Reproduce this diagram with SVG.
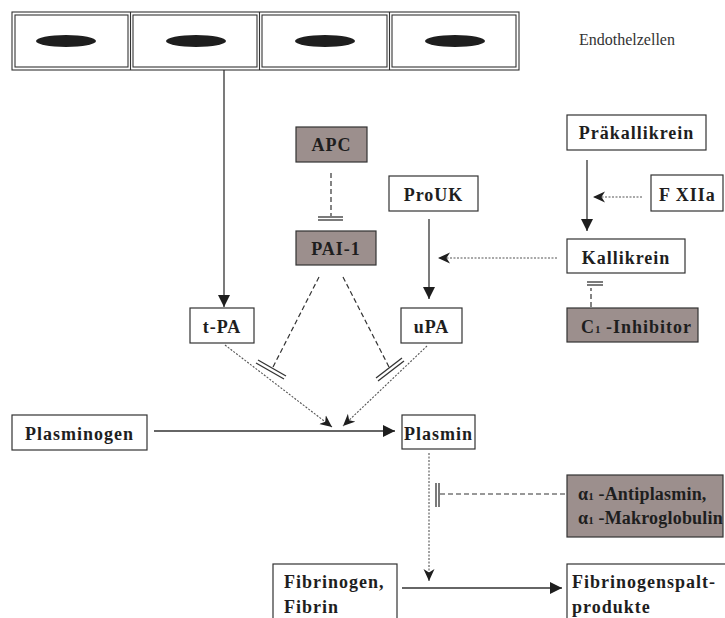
<svg xmlns="http://www.w3.org/2000/svg" width="725" height="618" viewBox="0 0 725 618">
  <defs>
    <style>
      .box { fill: #ffffff; stroke: #333333; stroke-width: 1.2; }
      .inh { fill: #9c8f8d; stroke: #333333; stroke-width: 1.2; }
      .cell { fill: none; stroke: #333333; stroke-width: 1.1; }
      .nuc { fill: #1e1e1e; }
      .lbl { font-family: "Liberation Serif", "Times New Roman", serif; font-weight: bold; font-size: 18px; letter-spacing: 1px; fill: #1e1e1e; }
      .tight { letter-spacing: 0.2px; }
      .sub { font-size: 11px; letter-spacing: 0; }
      .plain { font-family: "Liberation Serif", "Times New Roman", serif; font-size: 16px; fill: #333333; }
      .solid { fill: none; stroke: #333333; stroke-width: 1.3; }
      .dash { fill: none; stroke: #333333; stroke-width: 1.2; stroke-dasharray: 5 3; }
      .dot { fill: none; stroke: #555555; stroke-width: 1.1; stroke-dasharray: 2 1.5; }
      .bar { fill: none; stroke: #333333; stroke-width: 1.3; }
    </style>
    <marker id="solidHead" viewBox="0 0 12 12" refX="12" refY="6" markerWidth="12" markerHeight="12" markerUnits="userSpaceOnUse" orient="auto">
      <path d="M0,0 L12,6 L0,12 Z" fill="#1e1e1e"/>
    </marker>
    <marker id="barbHead" viewBox="0 0 12 12" refX="12" refY="6" markerWidth="12" markerHeight="12" markerUnits="userSpaceOnUse" orient="auto">
      <path d="M0,0.5 L12,6 L0,11.5 L3.5,6 Z" fill="#1e1e1e"/>
    </marker>
  </defs>

  <!-- endothelial cell layer -->
  <g id="endothel">
    <rect class="cell" x="12" y="12" width="507" height="58"/>
    <rect class="cell" x="15" y="15" width="113" height="52"/>
    <rect class="cell" x="133" y="15" width="124" height="52"/>
    <rect class="cell" x="262" y="15" width="125" height="52"/>
    <rect class="cell" x="392" y="15" width="124" height="52"/>
    <line class="cell" x1="130.5" y1="12" x2="130.5" y2="70"/>
    <line class="cell" x1="259.5" y1="12" x2="259.5" y2="70"/>
    <line class="cell" x1="389.5" y1="12" x2="389.5" y2="70"/>
    <ellipse class="nuc" cx="66" cy="41" rx="30" ry="6"/>
    <ellipse class="nuc" cx="196" cy="41" rx="30" ry="6"/>
    <ellipse class="nuc" cx="325" cy="41" rx="30" ry="6"/>
    <ellipse class="nuc" cx="455" cy="41" rx="30" ry="6"/>
    <text class="plain" x="579" y="45">Endothelzellen</text>
  </g>

  <g id="apc">
    <rect class="inh" x="296" y="127" width="71" height="35"/>
    <text class="lbl" x="331.5" y="151" text-anchor="middle">APC</text>
  </g>
  <g id="pai1">
    <rect class="inh" x="296" y="231" width="80" height="34"/>
    <text class="lbl" x="336" y="255" text-anchor="middle">PAI-1</text>
  </g>
  <g id="prouk">
    <rect class="box" x="389" y="176" width="89" height="35"/>
    <text class="lbl" x="433.5" y="201" text-anchor="middle">ProUK</text>
  </g>
  <g id="tpa">
    <rect class="box" x="190" y="308" width="64" height="35"/>
    <text class="lbl" x="222" y="333" text-anchor="middle">t-PA</text>
  </g>
  <g id="upa">
    <rect class="box" x="401" y="308" width="61" height="35"/>
    <text class="lbl" x="431.5" y="333" text-anchor="middle">uPA</text>
  </g>
  <g id="praekallikrein">
    <rect class="box" x="567" y="115" width="139" height="35"/>
    <text class="lbl" x="636.5" y="139" text-anchor="middle">Präkallikrein</text>
  </g>
  <g id="fxiia">
    <rect class="box" x="651" y="175" width="72" height="36"/>
    <text class="lbl" x="659" y="201">F XIIa</text>
  </g>
  <g id="kallikrein">
    <rect class="box" x="567" y="239" width="118" height="34"/>
    <text class="lbl" x="626" y="264" text-anchor="middle">Kallikrein</text>
  </g>
  <g id="c1inhibitor">
    <rect class="inh" x="567" y="308" width="131" height="34"/>
    <text class="lbl" x="581" y="333">C<tspan class="sub">1</tspan> -Inhibitor</text>
  </g>
  <g id="plasminogen">
    <rect class="box" x="12" y="415" width="135" height="35"/>
    <text class="lbl" x="79.5" y="440" text-anchor="middle">Plasminogen</text>
  </g>
  <g id="plasmin">
    <rect class="box" x="402" y="415" width="73" height="34"/>
    <text class="lbl" x="438.5" y="440" text-anchor="middle">Plasmin</text>
  </g>
  <g id="antiplasmin">
    <rect class="inh" x="567" y="475" width="156" height="62"/>
    <text class="lbl tight" x="578" y="500">α<tspan class="sub">1</tspan> -Antiplasmin,</text>
    <text class="lbl tight" x="578" y="524">α<tspan class="sub">1</tspan> -Makroglobulin</text>
  </g>
  <g id="fibrinogen">
    <rect class="box" x="273" y="564" width="124" height="70"/>
    <text class="lbl" x="284" y="588">Fibrinogen,</text>
    <text class="lbl" x="284" y="613">Fibrin</text>
  </g>
  <g id="spaltprodukte">
    <rect class="box" x="567" y="564" width="180" height="70"/>
    <text class="lbl" x="572" y="588">Fibrinogenspalt-</text>
    <text class="lbl" x="572" y="613">produkte</text>
  </g>

  <!-- connectors -->
  <g id="connectors">
    <!-- activation: solid arrows -->
    <line class="solid" x1="224" y1="70" x2="224" y2="307" marker-end="url(#solidHead)"/>
    <line class="solid" x1="429" y1="219" x2="429" y2="299" marker-end="url(#solidHead)"/>
    <line class="solid" x1="587" y1="160" x2="587" y2="231" marker-end="url(#solidHead)"/>
    <line class="solid" x1="154" y1="431" x2="395" y2="431" marker-end="url(#solidHead)"/>
    <line class="solid" x1="402" y1="588" x2="562" y2="588" marker-end="url(#solidHead)"/>

    <!-- catalytic influence: dotted arrows -->
    <line class="dot" x1="642" y1="197" x2="593" y2="197" marker-end="url(#barbHead)"/>
    <line class="dot" x1="557" y1="258" x2="438" y2="258" marker-end="url(#barbHead)"/>
    <line class="dot" x1="225" y1="345" x2="332" y2="427" marker-end="url(#barbHead)"/>
    <line class="dot" x1="427" y1="346" x2="343" y2="426" marker-end="url(#barbHead)"/>
    <line class="dot" x1="429" y1="453" x2="429" y2="581" marker-end="url(#barbHead)"/>

    <!-- inhibition: dashed lines ending in double bars -->
    <line class="dash" x1="331" y1="173" x2="331" y2="216"/>
    <line class="bar" x1="318" y1="217" x2="343" y2="217"/>
    <line class="bar" x1="318" y1="220" x2="343" y2="220"/>

    <line class="dash" x1="319" y1="277" x2="273" y2="367"/>
    <line class="bar" x1="258" y1="360" x2="286" y2="376"/>
    <line class="bar" x1="256" y1="363" x2="284" y2="379"/>

    <line class="dash" x1="343" y1="277" x2="389" y2="367"/>
    <line class="bar" x1="376" y1="378" x2="402" y2="358"/>
    <line class="bar" x1="378" y1="381" x2="404" y2="361"/>

    <line class="dash" x1="591" y1="307" x2="591" y2="288"/>
    <line class="bar" x1="587" y1="282" x2="603" y2="282"/>
    <line class="bar" x1="587" y1="285" x2="603" y2="285"/>

    <line class="dash" x1="565" y1="494" x2="440" y2="494"/>
    <line class="bar" x1="436" y1="483" x2="436" y2="507"/>
    <line class="bar" x1="439" y1="483" x2="439" y2="507"/>
  </g>
</svg>
